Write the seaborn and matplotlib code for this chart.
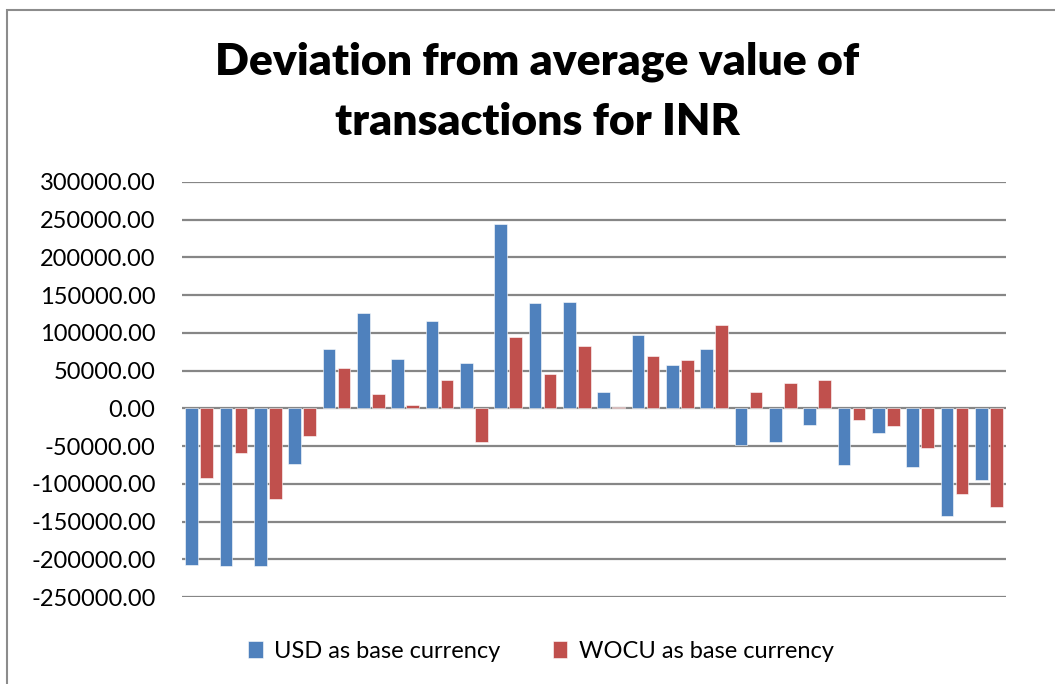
import pandas as pd
import numpy as np
import matplotlib
matplotlib.use("Agg")
import matplotlib.pyplot as plt
from matplotlib.patches import Rectangle
import seaborn as sns

# ------------------------------------------------------------------
# Data (24 periods, deviation from mean)
# ------------------------------------------------------------------
periods = [str(i) for i in range(1, 25)]
usd_dev = [-207000, -209000, -209000, -74000, 79000, 127000, 66000, 116000,
           60000, 244000, 140000, 141000, 22000, 97000, 57000, 79000,
           -49000, -44000, -22000, -75000, -33000, -78000, -143000, -95000]
wocu_dev = [-92000, -59000, -120000, -37000, 54000, 19000, 5000, 37000,
            -44000, 94000, 45000, 82000, 2000, 70000, 64000, 111000,
            22000, 34000, 38000, -16000, -23000, -52000, -114000, -131000]
series_names = ["USD as base currency", "WOCU as base currency"]
y_ticks = [300000, 250000, 200000, 150000, 100000, 50000, 0,
           -50000, -100000, -150000, -200000, -250000]

df = pd.DataFrame({
    "period": periods * 2,
    "deviation": usd_dev + wocu_dev,
    "series": [series_names[0]] * len(periods) + [series_names[1]] * len(periods),
})

sns.set_style("white")
plt.rcParams["font.family"] = ["Lato", "DejaVu Sans"]
plt.rcParams["text.color"] = "black"
plt.rcParams["ytick.color"] = "black"

fig = plt.figure(figsize=(10.55, 6.84), dpi=100)
ax = fig.add_axes([182 / 1055, 87 / 684, 824 / 1055, 415 / 684])

sns.barplot(data=df, x="period", y="deviation", hue="series",
            palette=["#4F81BD", "#C0504D"], saturation=1, width=0.87, gap=0.16,
            edgecolor="white", linewidth=0.4, ax=ax, zorder=3)

ax.set_ylim(-250000, 300000)
ax.set_xlim(-0.5, len(periods) - 0.5)
ax.set_yticks(y_ticks)
ax.set_yticklabels([f"{v:.2f}" for v in y_ticks], fontsize=17)
ax.tick_params(axis="y", length=0, pad=19, labelcolor="black")
ax.set_xticks([])
ax.set_xlabel("")
ax.set_ylabel("")
for s in ax.spines.values():
    s.set_visible(False)
ax.grid(axis="y", color="#868686", linewidth=1.6, zorder=0)

# legend below the plot
handles, labels = ax.get_legend_handles_labels()
ax.legend_.remove()
fig.legend(handles, labels, loc="center", bbox_to_anchor=(541 / 1055, 1 - 651 / 684),
           ncol=2, frameon=False, fontsize=17, handlelength=0.6, handleheight=0.7,
           handletextpad=0.5, columnspacing=2.2)

fig.text(537 / 1055, 1 - 62 / 684, "Deviation from average value of",
         ha="center", va="center", fontsize=32, fontweight="heavy")
fig.text(537 / 1055, 1 - 122 / 684, "transactions for INR",
         ha="center", va="center", fontsize=32, fontweight="heavy")

# chart-area border (cut off at right/bottom like the screenshot)
fig.add_artist(Rectangle((7 / 1055, -0.2), 1.5, 1.2 - 10 / 684,
                         transform=fig.transFigure, fill=False,
                         edgecolor="#8c8c8c", linewidth=1.5))

fig.savefig("out.png", dpi=100)
